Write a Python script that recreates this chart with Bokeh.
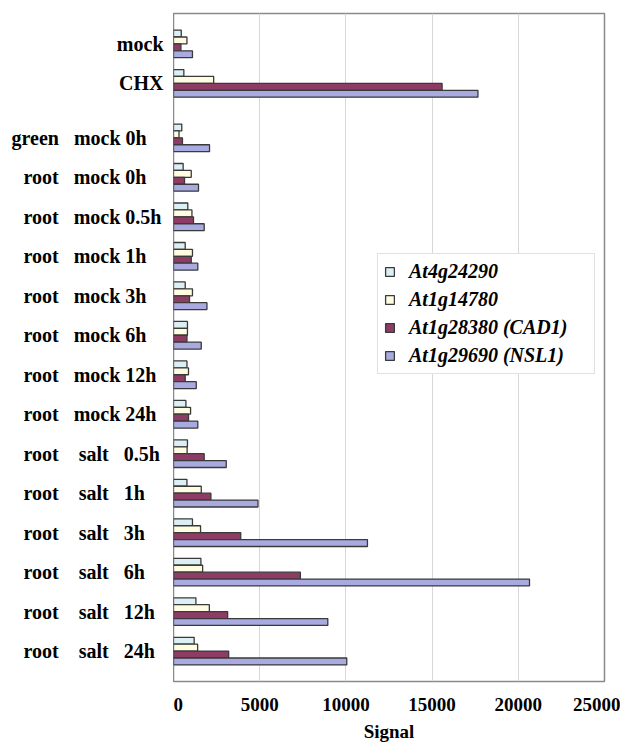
from bokeh.plotting import figure
from bokeh.layouts import row
from bokeh.models import (ColumnDataSource, FactorRange, Range1d, Legend,
                          LegendItem, FixedTicker)
from bokeh.core.properties import value
from bokeh.transform import dodge
from bokeh.embed import file_html
from bokeh.resources import INLINE

# ---------------- data ----------------
control_samples = ["mock", "CHX"]
time_samples = [
    "green mock 0h",
    "root mock 0h", "root mock 0.5h", "root mock 1h", "root mock 3h",
    "root mock 6h", "root mock 12h", "root mock 24h",
    "root salt 0.5h", "root salt 1h", "root salt 3h", "root salt 6h",
    "root salt 12h", "root salt 24h",
]
series_names = ["At4g24290", "At1g14780", "At1g28380 (CAD1)", "At1g29690 (NSL1)"]

at4g24290 = [450, 600, 480, 560, 830, 680, 680, 810, 780, 720,
             810, 780, 1100, 1590, 1300, 1200]
at1g14780 = [780, 2330, 320, 1030, 1070, 1100, 1100, 810, 870, 990,
             790, 1610, 1570, 1690, 2080, 1400]
at1g28380_cad1 = [430, 15580, 520, 640, 1160, 1030, 930, 780, 680, 870,
                  1780, 2170, 3900, 7360, 3140, 3200]
at1g29690_nsl1 = [1100, 17660, 2090, 1450, 1780, 1410, 1940, 1610, 1320, 1410,
                  3060, 4900, 11250, 20650, 8950, 10050]

x_ticks = [0, 5000, 10000, 15000, 20000, 25000]
x_title = "Signal"

# ---------------- layout / style ----------------
W, H = 620, 744
LABEL_W = 173
RIGHT, TOP, BOTTOM = 16, 13, 59
XMAX = 25000
FONT = "Liberation Serif"
colors = ["#DCEFF5", "#FFFCE1", "#8E3C66", "#A9ABE0"]
offsets = [0.2625, 0.0875, -0.0875, -0.2625]
BAR_H = 0.175

factors = [("g1", c) for c in control_samples] + [("g2", c) for c in time_samples]
y_range = FactorRange(*reversed(factors), group_padding=0.38,
                      range_padding=0.27, range_padding_units="absolute")

source = ColumnDataSource(dict(
    cat=factors,
    s0=at4g24290, s1=at1g14780, s2=at1g28380_cad1, s3=at1g29690_nsl1,
))

p = figure(width=W - LABEL_W, height=H, x_range=(0, XMAX), y_range=y_range,
           output_backend="svg", toolbar_location=None,
           min_border_left=0, min_border_right=RIGHT,
           min_border_top=TOP, min_border_bottom=BOTTOM)

renderers = []
for i, col in enumerate(["s0", "s1", "s2", "s3"]):
    r = p.hbar(y=dodge("cat", offsets[i], range=y_range), right=col, left=0,
               height=BAR_H, source=source, fill_color=colors[i],
               line_color="#3a3a3a", line_width=1.3)
    renderers.append(r)

p.yaxis.visible = False
p.ygrid.grid_line_color = None
p.xgrid.grid_line_color = "#d8d8d8"
p.xgrid.grid_line_width = 1
p.xaxis.ticker = FixedTicker(ticks=x_ticks)
p.xaxis.axis_line_color = None
p.xaxis.major_tick_line_color = None
p.xaxis.minor_tick_line_color = None
p.xaxis.major_label_standoff = 10
p.xaxis.major_label_text_font = FONT
p.xaxis.major_label_text_font_style = "bold"
p.xaxis.major_label_text_font_size = "19px"
p.xaxis.major_label_text_color = "black"
p.xaxis.axis_label = x_title
p.xaxis.axis_label_text_font = FONT
p.xaxis.axis_label_text_font_style = "bold"
p.xaxis.axis_label_text_font_size = "19px"
p.xaxis.axis_label_text_color = "black"
p.xaxis.axis_label_standoff = 7
p.outline_line_color = "#8a8a8a"
p.outline_line_width = 1.5
p.background_fill_color = "white"
p.border_fill_color = "white"

legend = Legend(items=[LegendItem(label=series_names[i], renderers=[renderers[i]])
                       for i in range(4)],
                location=(204, 307))
legend.label_text_font = FONT
legend.label_text_font_style = "bold italic"
legend.label_text_font_size = "20px"
legend.label_text_color = "black"
legend.glyph_width = 11
legend.glyph_height = 11
legend.label_standoff = 14
legend.label_width = 179
legend.spacing = 5
legend.padding = 6
legend.margin = 0
legend.border_line_color = "#c4c4c4"
legend.border_line_width = 1
legend.background_fill_color = "white"
legend.background_fill_alpha = 1
p.add_layout(legend)

# ---------------- category label column (shares the y range) ----------------
NB = "\u00a0"
def display_label(name):
    parts = name.split(" ")
    if parts[0] == "root" and parts[1] == "salt":
        return parts[0] + NB * 4 + parts[1] + NB * 3 + parts[2]
    if len(parts) == 3:
        return parts[0] + NB * 3 + parts[1] + NB + parts[2]
    return name

lab = figure(width=LABEL_W, height=H, x_range=Range1d(0, LABEL_W), y_range=y_range,
             output_backend="svg", toolbar_location=None,
             min_border_left=0, min_border_right=0,
             min_border_top=TOP, min_border_bottom=BOTTOM)
lab.axis.visible = False
lab.grid.visible = False
lab.outline_line_color = None
lab.background_fill_color = "white"
lab.border_fill_color = "white"

left_rows = [f for f in factors if f[0] == "g2"]
right_rows = [f for f in factors if f[0] == "g1"]
left_src = ColumnDataSource(dict(
    y=left_rows,
    x=[11 if f[1].startswith("green") else 23 for f in left_rows],
    text=[display_label(f[1]) for f in left_rows],
))
right_src = ColumnDataSource(dict(
    y=right_rows,
    x=[163 for f in right_rows],
    text=[display_label(f[1]) for f in right_rows],
))
for src, align in [(left_src, "left"), (right_src, "right")]:
    lab.text(x="x", y="y", text="text", source=src,
             text_align=align, text_baseline="middle",
             text_font=value(FONT), text_font_style="bold",
             text_font_size="20px", text_color="black")

layout = row(lab, p, spacing=0)
open("out.html", "w").write(file_html(layout, INLINE))
